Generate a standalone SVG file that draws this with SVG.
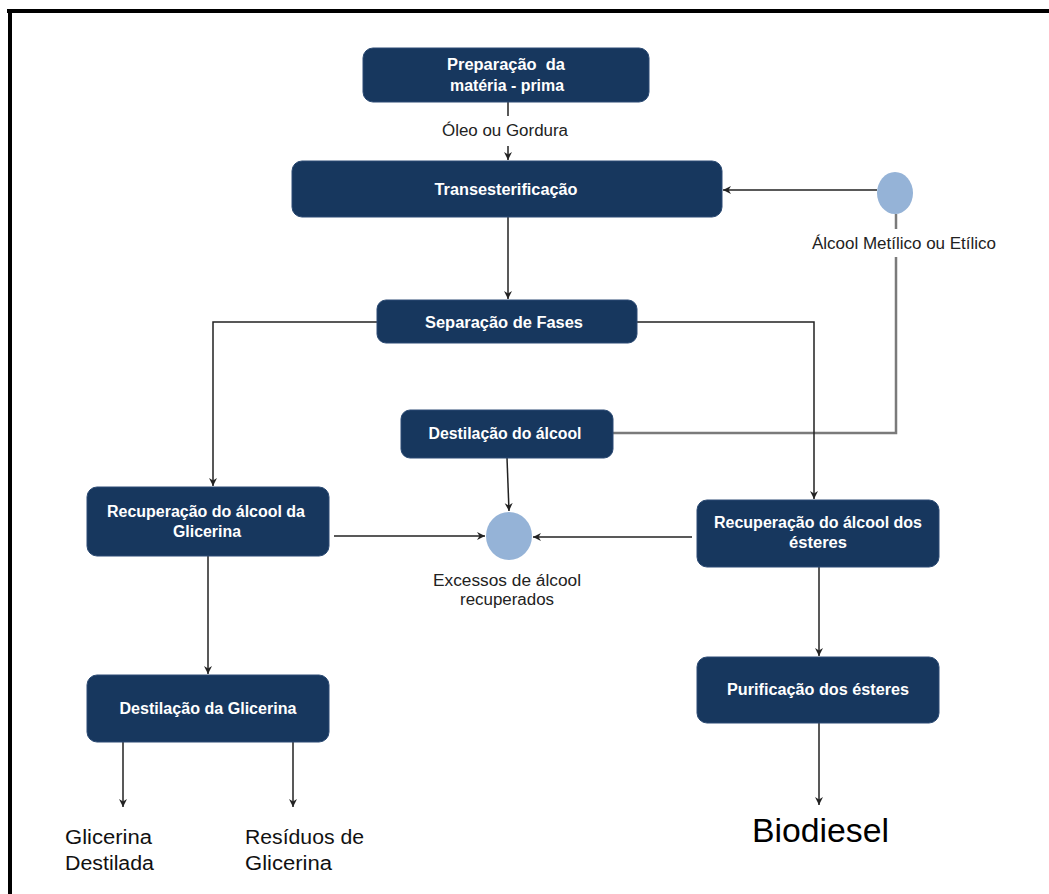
<svg xmlns="http://www.w3.org/2000/svg" width="1049" height="894" viewBox="0 0 1049 894">
  <style>
    .box { fill: #17375e; stroke: #2c4b74; stroke-width: 1; }
    .dot { fill: #95b3d7; }
    .nt { font-family: "Liberation Sans", Arial, sans-serif; font-size: 16px; font-weight: bold; fill: #ffffff; text-anchor: middle; white-space: pre; }
    .lbl { font-family: "Liberation Sans", Arial, sans-serif; font-size: 16px; fill: #222222; text-anchor: middle; }
    .out { font-family: "Liberation Sans", Arial, sans-serif; font-size: 20px; fill: #111111; }
    .big { font-family: "Liberation Sans", Arial, sans-serif; font-size: 33px; fill: #000000; }
    .ln { fill: none; stroke: #222222; stroke-width: 1.5; }
    .gl { fill: none; stroke: #7a7a7a; stroke-width: 2.5; }
    .frame { fill: #000000; }
  </style>
  <defs>
    <marker id="ah" markerUnits="userSpaceOnUse" markerWidth="10" markerHeight="10" refX="8" refY="4" orient="auto">
      <path d="M0,0 L8,4 L0,8 L2.5,4 Z" fill="#222222"/>
    </marker>
  </defs>

  <rect width="1049" height="894" fill="#ffffff"/>
  <!-- frame edges -->
  <rect class="frame" x="7" y="9" width="1042" height="4"/>
  <rect class="frame" x="8" y="9" width="4" height="885"/>

  <!-- connectors -->
  <g id="connectors">
    <line class="ln" x1="508" y1="102" x2="508" y2="116"/>
    <line class="ln" x1="508" y1="146" x2="508" y2="160" marker-end="url(#ah)"/>
    <line class="ln" x1="877" y1="190" x2="723" y2="190" stroke="#444" marker-end="url(#ah)"/>
    <line class="gl" x1="896" y1="214" x2="896" y2="229"/>
    <polyline class="gl" points="896,257 896,433 613,433"/>
    <line class="ln" x1="508" y1="217" x2="508" y2="299" marker-end="url(#ah)"/>
    <polyline class="ln" points="377,322 213,322 213,486" marker-end="url(#ah)"/>
    <polyline class="ln" points="637,322 814,322 814,499" marker-end="url(#ah)"/>
    <line class="ln" x1="507" y1="458" x2="509" y2="511" marker-end="url(#ah)"/>
    <line class="ln" x1="334" y1="536" x2="485" y2="536" marker-end="url(#ah)"/>
    <line class="ln" x1="692" y1="537" x2="533" y2="537" marker-end="url(#ah)"/>
    <line class="ln" x1="208" y1="556" x2="208" y2="674" marker-end="url(#ah)"/>
    <line class="ln" x1="819" y1="567" x2="819" y2="656" marker-end="url(#ah)"/>
    <line class="ln" x1="819" y1="723" x2="819" y2="805" marker-end="url(#ah)"/>
    <line class="ln" x1="123" y1="742" x2="123" y2="807" marker-end="url(#ah)"/>
    <line class="ln" x1="293" y1="742" x2="293" y2="807" marker-end="url(#ah)"/>
  </g>

  <!-- process steps -->
  <g id="preparacao">
    <rect class="box" x="363" y="48" width="286" height="54" rx="10"/>
    <text class="nt" x="506" y="70" textLength="118" lengthAdjust="spacingAndGlyphs">Preparação  da</text>
    <text class="nt" x="507" y="91" textLength="114" lengthAdjust="spacingAndGlyphs">matéria - prima</text>
  </g>
  <text id="oleo" class="lbl" x="505" y="136" textLength="126" lengthAdjust="spacingAndGlyphs">Óleo ou Gordura</text>

  <g id="transesterificacao">
    <rect class="box" x="292" y="161" width="430" height="56" rx="10"/>
    <text class="nt" x="506" y="195" textLength="143" lengthAdjust="spacingAndGlyphs">Transesterificação</text>
  </g>

  <g id="alcool-entrada">
    <ellipse class="dot" cx="895" cy="193" rx="18" ry="21"/>
    <text class="lbl" x="904" y="249" textLength="184" lengthAdjust="spacingAndGlyphs">Álcool Metílico ou Etílico</text>
  </g>

  <g id="separacao">
    <rect class="box" x="377" y="300" width="260" height="43" rx="9"/>
    <text class="nt" x="504" y="328" textLength="158" lengthAdjust="spacingAndGlyphs">Separação de Fases</text>
  </g>

  <g id="destilacao-alcool">
    <rect class="box" x="401" y="410" width="212" height="48" rx="9"/>
    <text class="nt" x="505" y="439" textLength="153" lengthAdjust="spacingAndGlyphs">Destilação do álcool</text>
  </g>

  <g id="recuperacao-glicerina">
    <rect class="box" x="87" y="487" width="242" height="69" rx="10"/>
    <text class="nt" x="206" y="517" textLength="198" lengthAdjust="spacingAndGlyphs">Recuperação do álcool da</text>
    <text class="nt" x="207" y="537" textLength="68" lengthAdjust="spacingAndGlyphs">Glicerina</text>
  </g>

  <g id="excessos">
    <ellipse class="dot" cx="509" cy="536" rx="23" ry="24"/>
    <text class="lbl" x="507" y="586" textLength="148" lengthAdjust="spacingAndGlyphs">Excessos de álcool</text>
    <text class="lbl" x="507" y="605" textLength="94" lengthAdjust="spacingAndGlyphs">recuperados</text>
  </g>

  <g id="recuperacao-esteres">
    <rect class="box" x="697" y="500" width="242" height="67" rx="10"/>
    <text class="nt" x="818" y="528" textLength="208" lengthAdjust="spacingAndGlyphs">Recuperação do álcool dos</text>
    <text class="nt" x="818" y="548" textLength="58" lengthAdjust="spacingAndGlyphs">ésteres</text>
  </g>

  <g id="purificacao">
    <rect class="box" x="697" y="657" width="242" height="66" rx="10"/>
    <text class="nt" x="818" y="695" textLength="182" lengthAdjust="spacingAndGlyphs">Purificação dos ésteres</text>
  </g>

  <g id="destilacao-glicerina">
    <rect class="box" x="87" y="675" width="242" height="67" rx="10"/>
    <text class="nt" x="208" y="714" textLength="177" lengthAdjust="spacingAndGlyphs">Destilação da Glicerina</text>
  </g>

  <!-- products -->
  <g id="glicerina-destilada">
    <text class="out" x="65" y="844" textLength="87" lengthAdjust="spacingAndGlyphs">Glicerina</text>
    <text class="out" x="65" y="870" textLength="89" lengthAdjust="spacingAndGlyphs">Destilada</text>
  </g>
  <g id="residuos">
    <text class="out" x="245" y="844" textLength="119" lengthAdjust="spacingAndGlyphs">Resíduos de</text>
    <text class="out" x="245" y="870" textLength="87" lengthAdjust="spacingAndGlyphs">Glicerina</text>
  </g>
  <text id="biodiesel" class="big" x="752" y="842" textLength="137" lengthAdjust="spacingAndGlyphs">Biodiesel</text>
</svg>
